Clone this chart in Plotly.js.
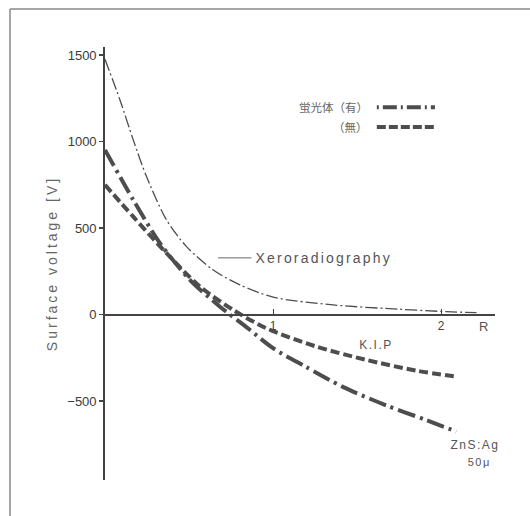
<!DOCTYPE html>
<html>
<head>
<meta charset="utf-8">
<script src="https://cdn.plot.ly/plotly-3.0.1.min.js"></script>
<style>
html, body { margin: 0; padding: 0; background: #fff; }
#chart { width: 530px; height: 516px; }
.ytitle { letter-spacing: 3px; }
.annotation[data-index="0"] text { letter-spacing: 2.2px; }
.annotation[data-index="1"] text, .annotation[data-index="2"] text, .annotation[data-index="3"] text { letter-spacing: 1.5px; }
</style>
</head>
<body>
<div id="chart"></div>
<script>
// Xeroradiography (thin dash-dot)
const xeroX = [0, 0.089, 0.168, 0.247, 0.366, 0.485, 0.644, 0.803, 1.0, 1.357, 1.755, 2.03, 2.21];
const xeroY = [1475, 1240, 1009, 797, 546, 392, 257, 171, 100, 55, 30, 16, 10];
// ZnS:Ag 50μ, phosphor present (thick dash-dot)
const znsX = [0, 0.168, 0.327, 0.506, 0.684, 0.85, 1.0, 1.19, 1.418, 1.676, 1.91, 2.09];
const znsY = [951, 662, 412, 199, 45, -80, -195, -300, -420, -527, -610, -677];
// K.I.P, phosphor absent (thick dashed)
const kipX = [0, 0.168, 0.366, 0.565, 0.763, 0.96, 1.258, 1.555, 1.853, 2.10];
const kipY = [749, 565, 354, 161, 26, -80, -186, -263, -325, -360];

const yTickVals = [-500, 0, 500, 1000, 1500];
const xTickVals = [1, 2];
const xTickText = ['1', '2'];
const yTitle = 'Surface voltage [V]';
const legendLabels = ['蛍光体（有）', '（無）'];
const curveLabels = ['Xeroradiography', 'K.I.P', 'ZnS:Ag', '50μ'];

const xRange = [0, 2.32];
const yRange = [-957, 1546];

const lineCol = '#4d4d4d';
const textCol = '#555';
const font = 'Liberation Sans, Arial, sans-serif';

const traces = [
  { x: xeroX, y: xeroY, mode: 'lines', line: { color: lineCol, width: 1.3, dash: '12px,3px,2px,3px', shape: 'spline', smoothing: 0.8 }, showlegend: false, hoverinfo: 'skip' },
  { x: znsX, y: znsY, mode: 'lines', line: { color: lineCol, width: 4, dash: '18px,5px,3px,5px', shape: 'spline', smoothing: 0.8 }, showlegend: false, hoverinfo: 'skip' },
  { x: kipX, y: kipY, mode: 'lines', line: { color: lineCol, width: 4, dash: '9px,4px', shape: 'spline', smoothing: 0.8 }, showlegend: false, hoverinfo: 'skip' }
];

const zeroPos = (0 - yRange[0]) / (yRange[1] - yRange[0]);

const layout = {
  width: 530, height: 516,
  margin: { l: 105, r: 35, t: 47, b: 36 },
  paper_bgcolor: '#fff', plot_bgcolor: '#fff',
  showlegend: false,
  font: { family: font, color: textCol },
  xaxis: {
    range: xRange, anchor: 'free', position: zeroPos,
    showgrid: false, zeroline: false, showline: true, linecolor: '#444', linewidth: 1.3,
    tickvals: xTickVals, ticktext: xTickText, ticks: 'inside', ticklen: 5, tickcolor: '#444', tickwidth: 1.2,
    tickfont: { family: font, size: 12, color: '#444' }, fixedrange: true
  },
  yaxis: {
    range: yRange, showgrid: false, zeroline: false, showline: true, linecolor: '#444', linewidth: 1.8,
    tickvals: yTickVals, ticks: 'outside', ticklen: 4, tickcolor: '#444', tickwidth: 1.2,
    tickfont: { family: font, size: 13, color: '#3a3a3a' },
    title: { text: yTitle, font: { family: font, size: 14, color: '#666' }, standoff: 6 },
    fixedrange: true
  },
  shapes: [
    // scan frame (top and left)
    { type: 'line', xref: 'paper', yref: 'paper', x0: -0.2436, x1: 1.09, y0: 1.0878, y1: 1.0878, line: { color: '#888', width: 1.5 } },
    { type: 'line', xref: 'paper', yref: 'paper', x0: -0.2436, x1: -0.2436, y0: 1.0878, y1: -0.09, line: { color: '#888', width: 1.5 } },
    // legend samples
    { type: 'line', xref: 'paper', yref: 'paper', x0: 0.697, x1: 0.846, y0: 0.861, y1: 0.861, line: { color: lineCol, width: 4, dash: '2px,4px,14px,4px' } },
    { type: 'line', xref: 'paper', yref: 'paper', x0: 0.697, x1: 0.846, y0: 0.815, y1: 0.815, line: { color: lineCol, width: 4, dash: '9px,3px' } },
    // Xeroradiography leader
    { type: 'line', xref: 'paper', yref: 'paper', x0: 0.290, x1: 0.375, y0: 0.513, y1: 0.513, line: { color: '#666', width: 1 } }
  ],
  annotations: [
    { text: curveLabels[0], xref: 'paper', yref: 'paper', x: 0.5615, y: 0.513, xanchor: 'center', yanchor: 'middle', showarrow: false, font: { family: font, size: 14, color: textCol } },
    { text: curveLabels[1], x: 1.612, y: -176, xanchor: 'center', yanchor: 'middle', showarrow: false, font: { family: font, size: 12, color: textCol } },
    { text: curveLabels[2], x: 2.20, y: -754, xanchor: 'center', yanchor: 'middle', showarrow: false, font: { family: font, size: 12, color: textCol } },
    { text: curveLabels[3], x: 2.23, y: -853, xanchor: 'center', yanchor: 'middle', showarrow: false, font: { family: font, size: 11, color: textCol } },
    { text: 'R', x: 2.25, y: 0, yshift: -12, xanchor: 'center', yanchor: 'middle', showarrow: false, font: { family: font, size: 13, color: textCol } },
    { text: legendLabels[0], xref: 'paper', yref: 'paper', x: 0.68, y: 0.861, xanchor: 'right', yanchor: 'middle', showarrow: false, font: { family: 'Noto Sans CJK JP', size: 11.5, color: '#666' } },
    { text: legendLabels[1], xref: 'paper', yref: 'paper', x: 0.68, y: 0.815, xanchor: 'right', yanchor: 'middle', showarrow: false, font: { family: 'Noto Sans CJK JP', size: 11.5, color: '#666' } }
  ]
};

Plotly.newPlot('chart', traces, layout, { displayModeBar: false, staticPlot: true });
</script>
</body>
</html>
